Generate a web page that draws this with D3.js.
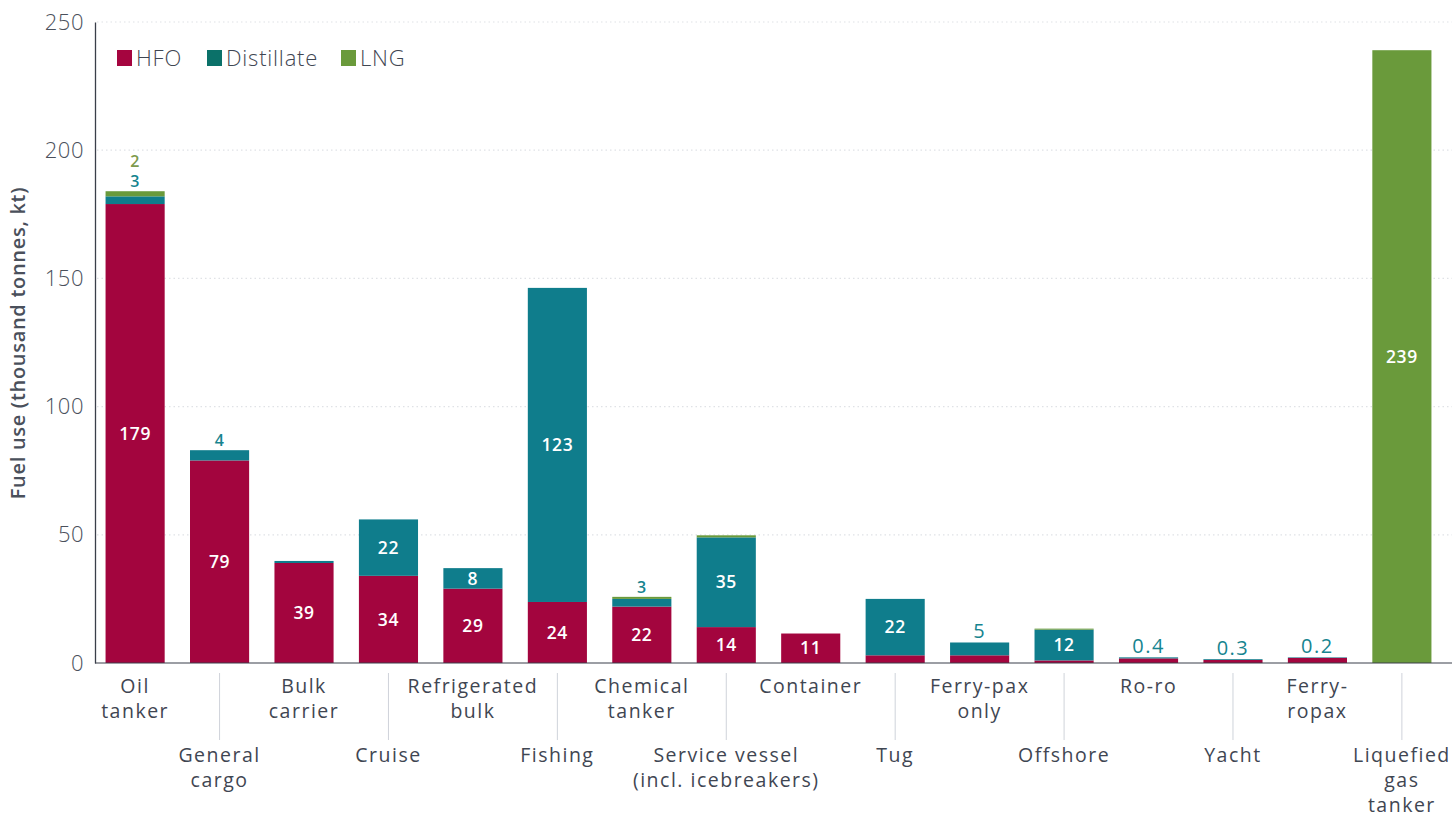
<!DOCTYPE html>
<html>
<head>
<meta charset="utf-8">
<script src="https://cdn.jsdelivr.net/npm/d3@7"></script>
<style>
  html, body { margin: 0; padding: 0; background: #ffffff; }
  svg { display: block; font-family: "Open Sans", "Noto Sans", sans-serif; }
</style>
</head>
<body>
<svg id="chart" width="1454" height="818"></svg>
<script>
// ---- Data ----
const categories = [
  ["Oil", "tanker"],
  ["General", "cargo"],
  ["Bulk", "carrier"],
  ["Cruise"],
  ["Refrigerated", "bulk"],
  ["Fishing"],
  ["Chemical", "tanker"],
  ["Service vessel", "(incl. icebreakers)"],
  ["Container"],
  ["Tug"],
  ["Ferry-pax", "only"],
  ["Offshore"],
  ["Ro-ro"],
  ["Yacht"],
  ["Ferry-", "ropax"],
  ["Liquefied", "gas", "tanker"]
];
const hfo        = [179, 79, 39, 34, 29, 23.8, 22, 14, 11.5, 3, 3, 1, 1.8, 1.2, 2.0, 0];
const distillate = [3, 4, 0.8, 22, 8, 122.5, 3, 35, 0, 22, 5, 12, 0.4, 0.3, 0.2, 0];
const lng        = [2, 0, 0, 0, 0, 0, 0.8, 0.8, 0, 0, 0, 0.4, 0, 0, 0, 239];
// label text shown for each segment (null = unlabeled)
const hfoLabels  = ["179", "79", "39", "34", "29", "24", "22", "14", "11", null, null, null, null, null, null, null];
const distLabels = ["3", "4", null, "22", "8", "123", "3", "35", null, "22", "5", "12", "0.4", "0.3", "0.2", null];
const lngLabels  = ["2", null, null, null, null, null, null, null, null, null, null, null, null, null, null, "239"];
const seriesNames = ["HFO", "Distillate", "LNG"];
const yTicks = [0, 50, 100, 150, 200, 250];

// ---- Style ----
const colors = { HFO: "#a3053e", Distillate: "#0f7d8c", LNG: "#6a9a3b" };
const legendColors = { HFO: "#a5053f", Distillate: "#0b7169", LNG: "#6a9a3b" };
const labelColors = { Distillate: "#16848f", LNG: "#7d9a4c" };
const textColor = "#3f4652";

const svg = d3.select("#chart");
const x = d3.scaleBand().domain(d3.range(categories.length)).range([95, 1442])
  .paddingInner(0.3).paddingOuter(0.125);
const y = d3.scaleLinear().domain([0, 250]).range([663, 22]);

// gridlines
svg.append("g").selectAll("line").data(yTicks.filter(d => d > 0)).join("line")
  .attr("x1", 97).attr("x2", 1452)
  .attr("y1", d => y(d)).attr("y2", d => y(d))
  .attr("stroke", "#e0e2e6").attr("stroke-width", 1.2).attr("stroke-dasharray", "1.5,3");

// y axis
const yAxis = d3.axisLeft(y).tickValues(yTicks).tickSize(0).tickPadding(11);
const gy = svg.append("g").attr("transform", "translate(95,0)").call(yAxis);
gy.select(".domain").attr("stroke", "#3a3f4a").attr("stroke-width", 1.3);
gy.selectAll("text").attr("font-size", 22).attr("fill", "#4a505b")
  .attr("font-weight", 300).attr("letter-spacing", "0.5px")
  .attr("font-family", "'Open Sans', sans-serif");

// y label
svg.append("text")
  .attr("transform", "translate(25,343) rotate(-90)")
  .attr("text-anchor", "middle")
  .attr("font-size", 20).attr("font-weight", 600).attr("fill", "#4a505b")
  .attr("letter-spacing", "0.7px")
  .text("Fuel use (thousand tonnes, kt)");

// stacked data
const rows = categories.map((c, i) => ({ i, HFO: hfo[i], Distillate: distillate[i], LNG: lng[i] }));
const stack = d3.stack().keys(seriesNames)(rows);
const labelSets = { HFO: hfoLabels, Distillate: distLabels, LNG: lngLabels };

svg.append("g").selectAll("g").data(stack).join("g")
  .attr("fill", d => colors[d.key])
  .selectAll("rect").data(d => d).join("rect")
  .attr("x", d => x(d.data.i))
  .attr("width", x.bandwidth())
  .attr("y", d => y(d[1]))
  .attr("height", d => Math.max(0, y(d[0]) - y(d[1])));

// baseline
svg.append("line").attr("x1", 95).attr("x2", 1452).attr("y1", y(0)).attr("y2", y(0))
  .attr("stroke", "#3a3f4a").attr("stroke-width", 1.2);

// value labels
const lg = svg.append("g");
categories.forEach((c, i) => {
  const total = hfo[i] + distillate[i] + lng[i];
  const small = total < 10;
  let aboveOffset = 0;
  stack.forEach(s => {
    const lab = labelSets[s.key][i];
    if (!lab) return;
    const d = s[i];
    const h = y(d[0]) - y(d[1]);
    const cx = x(i) + x.bandwidth() / 2;
    if (h >= 17) {
      lg.append("text").attr("x", cx).attr("y", (y(d[0]) + y(d[1])) / 2)
        .attr("dy", "0.35em").attr("text-anchor", "middle")
        .attr("font-size", 17.5).attr("font-weight", 600).attr("fill", "#ffffff")
        .attr("letter-spacing", "0.6px")
        .text(lab);
    } else {
      lg.append("text").attr("x", cx).attr("y", y(total) - 4 - aboveOffset)
        .attr("text-anchor", "middle")
        .attr("font-size", small ? 20 : 16)
        .attr("font-weight", small ? 400 : 600)
        .attr("letter-spacing", small ? "1.5px" : "0.5px")
        .attr("fill", labelColors[s.key])
        .text(lab);
      aboveOffset += 20;
    }
  });
});

// category labels, alternating rows
const xl = svg.append("g");
categories.forEach((lines, i) => {
  const cx = x(i) + x.bandwidth() / 2;
  const base = i % 2 === 0 ? 693 : 762;
  lines.forEach((ln, k) => {
    xl.append("text").attr("text-anchor", "middle")
      .attr("font-size", 19.5).attr("letter-spacing", "1.5px").attr("fill", textColor)
      .attr("x", cx).attr("y", base + k * 25).text(ln);
  });
  if (i % 2 === 1) {
    xl.append("line").attr("x1", cx).attr("x2", cx).attr("y1", 673).attr("y2", 740)
      .attr("stroke", "#cfd3da").attr("stroke-width", 1);
  }
});

// legend
const legendItems = [
  { key: "HFO", x: 117 },
  { key: "Distillate", x: 207 },
  { key: "LNG", x: 341 }
];
const leg = svg.append("g");
legendItems.forEach(it => {
  leg.append("rect").attr("x", it.x).attr("y", 50).attr("width", 15).attr("height", 16)
    .attr("fill", legendColors[it.key]);
  leg.append("text").attr("x", it.x + 19).attr("y", 66)
    .attr("font-size", 22).attr("font-weight", 300).attr("letter-spacing", "0.8px")
    .attr("fill", textColor)
    .text(it.key);
});
</script>
</body>
</html>
